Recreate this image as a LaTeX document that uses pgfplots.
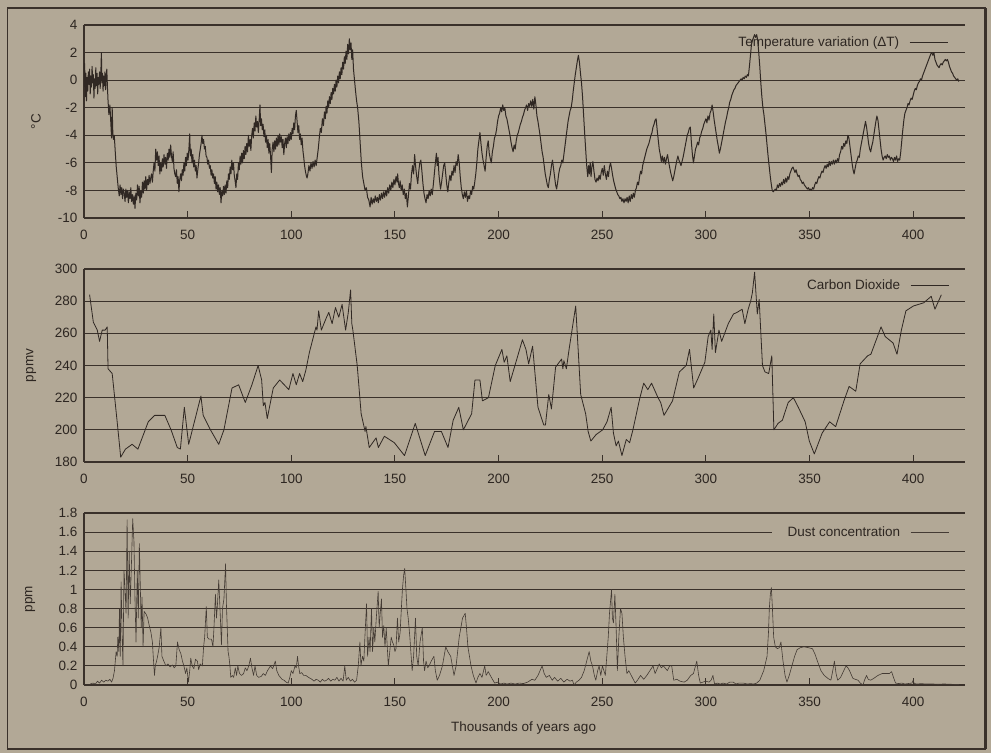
\documentclass[border=0pt]{standalone}
\usepackage{fontspec}
\setmainfont{Liberation Sans}
\usepackage{pgfplots}
\pgfplotsset{compat=1.18}
\definecolor{bg}{RGB}{178,168,150}
\definecolor{ink}{RGB}{58,49,42}
\definecolor{txt}{RGB}{45,38,33}
\definecolor{dat}{RGB}{48,40,35}
\pgfplotsset{
 panel/.style={
  scale only axis, width=881pt, xmin=0, xmax=425,
  axis x line=bottom, axis y line=left,
  axis line style={-, ink, line width=1.3pt},
  xtick={0,50,...,400}, xticklabels={0,50,100,150,200,250,300,350,400},
  tick align=inside, major tick length=7pt,
  tick style={ink, line width=1pt},
  ymajorgrids, grid style={ink, line width=1.1pt},
  every tick label/.append style={font=\fontsize{13.5}{15}\selectfont, text=txt},
  xticklabel style={yshift=-9pt}, yticklabel style={xshift=-3pt},
  label style={font=\fontsize{13.5}{15}\selectfont, text=txt},
  legend plot pos=right,
  legend image code/.code={\draw[##1] (0pt,0pt) -- (38pt,0pt);},
 }
}
\begin{document}
\begin{tikzpicture}
\path[use as bounding box, fill=bg] (0pt,0pt) rectangle (991pt,753pt);
\draw[ink, line width=1.5pt] (7.5pt,4pt) rectangle (985pt,745pt);
\draw[ink, line width=3pt] (985pt,4pt) -- (985pt,745pt);
% ---------------- Temperature
\begin{axis}[panel, at={(84pt,535pt)}, anchor=south west, height=193pt,
  ymin=-10, ymax=4, ytick={-10,-8,-6,-4,-2,0,2,4}, yticklabels={-10,-8,-6,-4,-2,0,2,4},
  ylabel={°C}, ylabel style={at={(axis description cs:-0.0545,0.5)}, anchor=center},
  legend style={draw=none, fill=none, at={(axis description cs:0.981,0.91)}, anchor=east,
    inner sep=0pt, nodes={inner sep=0pt, text=txt, font=\fontsize{13.5}{15}\selectfont}, column sep=10pt}]
\addplot[dat, line width=1pt, line join=round] coordinates {
(0,-0.5)(0.3,1.2)(0.6,-1.2)(0.9,0.5)(1.2,-1.5)(1.5,0.2)(1.8,-0.8)(2.1,0.6)(2.4,-0.3)(2.7,0.8)(3.0,-1.0)(3.3,0.3)(3.6,-0.5)(3.9,1.0)(4.2,-0.2)(4.5,0.4)(4.8,-1.3)(5.1,0.1)(5.4,-0.6)(5.7,0.9)(6.0,-0.4)(6.3,0.5)(6.6,-1.0)(6.9,0.2)(7.2,-0.3)(7.5,0.6)(7.8,-0.6)(8.1,0.4)(8.4,2.0)(8.6,-0.2)(8.9,0.5)(9.2,-0.8)(9.5,0.3)(9.8,-0.4)(10.1,0.6)(10.4,-0.7)(10.7,0.2)(11.0,0.8)(11.3,-0.5)(11.6,-1.5)(12.0,-2.5)(12.5,-1.8)(12.9,-3.0)(13.3,-4.2)(13.6,-2.0)(13.9,-3.8)(14.2,-4.3)(14.6,-4.0)(15.0,-5.0)(15.5,-6.2)(16.0,-7.0)(16.5,-7.8)(17.0,-8.4)(17.4,-7.6)(17.8,-8.3)(18.2,-7.8)(18.6,-8.6)(19.0,-7.9)(19.4,-8.2)(19.8,-8.8)(20.2,-7.9)(20.6,-8.5)(21.0,-8.0)(21.4,-8.9)(21.8,-8.1)(22.2,-8.6)(22.6,-7.8)(23.0,-8.8)(23.4,-8.3)(23.8,-9.0)(24.2,-8.4)(24.6,-9.3)(25.0,-8.2)(25.4,-8.7)(25.8,-7.6)(26.2,-8.4)(26.6,-7.7)(27.0,-8.9)(27.4,-8.0)(27.8,-8.5)(28.2,-7.4)(28.6,-8.2)(29.0,-7.3)(29.4,-7.9)(29.8,-7.0)(30.2,-8.0)(30.6,-7.2)(31.0,-7.6)(31.4,-6.9)(31.8,-7.5)(32.2,-7.1)(32.6,-6.8)(33.0,-7.4)(33.4,-6.6)(33.8,-6.0)(34.2,-6.6)(34.6,-5.0)(35.0,-5.8)(35.4,-5.2)(35.8,-6.2)(36.2,-5.5)(36.6,-6.8)(37.0,-6.0)(37.4,-6.6)(37.8,-5.7)(38.2,-6.3)(38.6,-5.4)(39.0,-6.1)(39.4,-5.6)(39.8,-6.4)(40.2,-5.3)(40.6,-5.8)(41.0,-5.0)(41.4,-5.6)(41.8,-4.7)(42.2,-5.5)(42.6,-5.9)(43.0,-5.2)(43.4,-6.4)(43.8,-6.8)(44.2,-7.0)(44.6,-6.5)(45.0,-7.5)(45.4,-7.0)(45.8,-8.1)(46.2,-7.2)(46.6,-6.8)(47.0,-7.3)(47.4,-6.5)(47.8,-6.9)(48.2,-6.0)(48.6,-6.6)(49.0,-5.6)(49.4,-6.2)(49.8,-5.3)(50.2,-5.8)(50.6,-5.0)(51.0,-3.9)(51.3,-5.5)(51.7,-5.0)(52.1,-6.0)(52.5,-5.4)(52.9,-6.3)(53.3,-5.8)(53.7,-6.6)(54.1,-6.2)(54.5,-7.1)(54.9,-6.5)(55.3,-6.0)(55.7,-5.4)(56.1,-5.0)(56.5,-4.6)(56.9,-4.0)(57.3,-4.6)(57.7,-4.3)(58.1,-5.0)(58.5,-4.8)(58.9,-5.5)(59.3,-5.6)(59.7,-6.1)(60.1,-5.8)(60.5,-6.4)(60.9,-6.2)(61.3,-6.9)(61.7,-6.5)(62.1,-7.1)(62.5,-6.8)(62.9,-7.5)(63.3,-7.0)(63.7,-7.9)(64.1,-7.4)(64.5,-8.1)(64.9,-7.6)(65.3,-8.3)(65.7,-7.8)(66.1,-8.9)(66.5,-8.0)(66.9,-8.4)(67.3,-7.7)(67.7,-8.3)(68.1,-7.6)(68.5,-8.2)(68.9,-7.3)(69.3,-7.8)(69.7,-6.8)(70.1,-7.2)(70.5,-6.3)(70.9,-6.8)(71.3,-5.8)(71.7,-6.5)(72.1,-6.0)(72.5,-6.9)(72.9,-7.3)(73.3,-7.8)(73.7,-6.8)(74.1,-7.2)(74.5,-6.0)(74.9,-6.5)(75.3,-5.5)(75.7,-6.1)(76.1,-5.3)(76.5,-6.0)(76.9,-5.1)(77.3,-5.7)(77.7,-4.8)(78.1,-5.4)(78.5,-4.6)(78.9,-5.2)(79.3,-4.0)(79.7,-4.8)(80.1,-4.3)(80.5,-5.1)(80.9,-4.0)(81.3,-3.5)(81.7,-4.2)(82.1,-3.1)(82.5,-3.7)(82.9,-2.6)(83.3,-3.4)(83.7,-3.0)(84.1,-3.8)(84.5,-2.9)(84.9,-1.8)(85.2,-3.3)(85.6,-2.8)(86.0,-3.6)(86.4,-3.2)(86.8,-4.1)(87.2,-3.6)(87.6,-4.5)(88.0,-4.0)(88.4,-4.9)(88.8,-4.3)(89.2,-5.3)(89.6,-4.6)(90.0,-5.5)(90.4,-6.7)(90.8,-5.0)(91.2,-4.5)(91.6,-5.2)(92.0,-4.4)(92.4,-5.0)(92.8,-4.2)(93.2,-4.8)(93.6,-4.0)(94.0,-4.7)(94.4,-3.9)(94.8,-4.5)(95.2,-4.1)(95.6,-4.9)(96.0,-4.3)(96.4,-5.4)(96.8,-4.6)(97.2,-4.2)(97.6,-4.9)(98.0,-4.1)(98.4,-4.6)(98.8,-3.9)(99.2,-4.4)(99.6,-3.8)(100.0,-4.3)(100.4,-3.5)(100.8,-3.9)(101.2,-3.1)(101.6,-3.6)(102.0,-2.6)(102.4,-2.2)(102.8,-3.0)(103.2,-3.8)(103.6,-3.3)(104.0,-4.3)(104.4,-3.9)(104.8,-4.7)(105.2,-4.2)(105.6,-5.1)(106.0,-5.6)(106.4,-6.2)(106.8,-6.6)(107.2,-6.9)(107.6,-7.1)(108.0,-6.8)(108.5,-6.2)(109.0,-6.6)(109.5,-6.0)(110.0,-6.4)(110.5,-5.9)(111.0,-6.3)(111.5,-5.8)(112.0,-6.2)(112.5,-5.6)(113.0,-5.0)(113.5,-4.2)(114.0,-3.5)(114.5,-3.8)(115.0,-2.8)(115.5,-3.3)(116.0,-2.3)(116.4,-2.8)(116.8,-1.9)(117.2,-2.4)(117.6,-1.5)(118.0,-2.0)(118.4,-1.2)(118.8,-1.7)(119.2,-0.9)(119.6,-1.4)(120.0,-0.6)(120.4,-1.0)(120.8,-0.3)(121.2,-0.8)(121.6,0.0)(122.0,-0.5)(122.4,0.3)(122.8,-0.2)(123.2,0.6)(123.6,0.1)(124.0,0.9)(124.4,0.4)(124.8,1.3)(125.2,0.8)(125.6,1.7)(126.0,1.2)(126.4,2.1)(126.8,1.5)(127.2,2.6)(127.6,1.9)(128.0,3.0)(128.4,2.2)(128.8,2.7)(129.2,1.5)(129.6,2.2)(130.0,0.8)(130.5,0.0)(131.0,-0.8)(131.5,-1.5)(132.0,-2.0)(132.6,-3.0)(133.2,-4.5)(133.8,-6.0)(134.4,-7.0)(135.0,-7.5)(135.6,-8.0)(136.2,-7.8)(136.8,-8.5)(137.4,-8.7)(138.0,-9.2)(138.5,-8.5)(139.0,-9.0)(139.5,-8.6)(140.0,-8.9)(140.5,-8.4)(141.0,-8.8)(141.5,-8.5)(142.0,-8.9)(142.5,-8.3)(143.0,-8.7)(143.5,-8.2)(144.0,-8.6)(144.5,-8.1)(145.0,-8.5)(145.5,-8.0)(146.0,-8.4)(146.5,-7.8)(147.0,-8.2)(147.5,-7.6)(148.0,-8.0)(148.5,-7.4)(149.0,-7.8)(149.5,-7.2)(150.0,-7.6)(150.5,-7.0)(151.0,-7.4)(151.3,-6.8)(151.7,-7.5)(152.1,-7.8)(152.5,-7.3)(153.0,-8.0)(153.5,-7.6)(154.0,-8.3)(154.5,-7.9)(155.0,-8.6)(155.5,-8.2)(156.0,-9.2)(156.5,-8.4)(157.0,-7.5)(157.5,-7.9)(158.0,-6.8)(158.5,-6.2)(159.0,-6.8)(159.5,-5.4)(160.0,-6.3)(160.5,-7.0)(161.0,-7.5)(161.5,-6.6)(162.0,-6.0)(162.5,-5.8)(163.0,-6.6)(163.5,-7.5)(164.0,-8.2)(164.5,-8.6)(165.0,-8.9)(165.5,-8.3)(166.0,-8.6)(166.5,-8.0)(167.0,-8.4)(167.5,-7.9)(168.0,-8.3)(168.5,-7.6)(169.0,-6.8)(169.5,-6.0)(170.0,-5.3)(170.4,-6.2)(170.8,-5.6)(171.2,-6.8)(171.6,-7.4)(172.0,-7.9)(172.5,-7.4)(173.0,-6.8)(173.5,-6.2)(174.0,-6.0)(174.5,-6.8)(175.0,-7.6)(175.5,-8.1)(176.0,-7.4)(176.5,-6.9)(177.0,-7.3)(177.5,-6.6)(178.0,-6.9)(178.5,-6.2)(179.0,-6.7)(179.5,-5.9)(180.0,-6.2)(180.5,-5.4)(181.0,-6.0)(181.5,-7.0)(182.0,-7.8)(182.5,-8.3)(183.0,-8.6)(183.5,-8.1)(184.0,-8.5)(184.5,-8.0)(185.0,-8.8)(185.5,-8.4)(186.0,-8.6)(186.5,-8.0)(187.0,-8.3)(187.5,-7.7)(188.0,-7.9)(188.5,-7.4)(189.0,-6.8)(189.5,-6.0)(190.0,-5.0)(190.5,-4.4)(191.0,-3.8)(191.5,-4.6)(192.0,-5.3)(192.5,-5.8)(193.0,-6.2)(193.5,-6.6)(194.0,-5.6)(194.5,-4.8)(195.0,-4.4)(195.5,-5.3)(196.0,-5.7)(196.5,-6.0)(197.0,-5.2)(197.5,-4.8)(198.0,-4.2)(198.5,-4.0)(199.0,-3.6)(199.5,-3.0)(200.0,-2.6)(200.5,-2.4)(201.0,-2.0)(201.5,-2.3)(202.0,-1.8)(202.5,-2.2)(203.0,-2.0)(203.5,-2.6)(204.0,-2.8)(204.5,-3.2)(205.0,-3.6)(205.5,-4.0)(206.0,-4.5)(206.5,-4.9)(207.0,-5.2)(207.5,-4.7)(208.0,-5.0)(208.5,-4.4)(209.0,-4.0)(209.5,-3.8)(210.0,-3.5)(210.5,-3.2)(211.0,-3.0)(211.5,-2.7)(212.0,-2.5)(212.5,-2.2)(213.0,-2.0)(213.5,-1.8)(214.0,-2.2)(214.5,-1.7)(215.0,-1.9)(215.5,-1.5)(216.0,-1.9)(216.5,-1.4)(217.0,-2.1)(217.5,-1.2)(218.0,-1.8)(218.5,-2.6)(219.0,-3.0)(219.5,-3.5)(220.0,-4.0)(220.5,-4.6)(221.0,-5.2)(221.5,-5.6)(222.0,-6.2)(222.5,-6.8)(223.0,-7.2)(223.5,-7.6)(224.0,-7.8)(224.5,-7.2)(225.0,-6.8)(225.5,-6.2)(226.0,-5.8)(226.5,-6.4)(227.0,-7.0)(227.5,-7.6)(228.0,-7.9)(228.5,-7.4)(229.0,-6.8)(229.5,-6.4)(230.0,-6.2)(230.5,-5.8)(231.0,-6.0)(231.5,-5.4)(232.0,-4.8)(232.5,-4.2)(233.0,-3.6)(233.5,-3.0)(234.0,-2.6)(234.5,-2.2)(235.0,-2.0)(235.5,-1.5)(236.0,-0.8)(236.5,-0.2)(237.0,0.4)(237.5,0.9)(238.0,1.4)(238.5,1.8)(239.0,1.3)(239.5,0.5)(240.0,-0.2)(240.5,-1.2)(241.0,-2.5)(241.5,-3.8)(242.0,-5.0)(242.5,-6.2)(243.0,-7.0)(243.4,-6.2)(243.8,-6.8)(244.2,-6.0)(244.6,-7.0)(245.0,-6.3)(245.5,-5.9)(246.0,-6.6)(246.5,-7.2)(247.0,-7.4)(247.5,-7.1)(248.0,-7.3)(248.5,-6.9)(249.0,-7.2)(249.5,-6.7)(250.0,-6.4)(250.5,-6.9)(251.0,-6.2)(251.5,-6.8)(252.0,-7.2)(252.5,-6.6)(253.0,-7.0)(253.5,-6.3)(254.0,-6.0)(254.5,-6.4)(255.0,-6.9)(255.5,-7.3)(256.0,-7.6)(256.5,-7.9)(257.0,-8.1)(257.5,-8.3)(258.0,-8.4)(258.5,-8.6)(259.0,-8.5)(259.5,-8.8)(260.0,-8.6)(260.5,-8.9)(261.0,-8.6)(261.5,-8.8)(262.0,-8.5)(262.5,-8.9)(263.0,-8.4)(263.5,-8.8)(264.0,-8.3)(264.5,-8.6)(265.0,-8.2)(265.5,-8.5)(266.0,-8.0)(266.5,-7.8)(267.0,-7.4)(267.5,-7.6)(268.0,-7.0)(268.5,-6.6)(269.0,-6.8)(269.5,-6.2)(270.0,-5.9)(270.5,-5.6)(271.0,-5.3)(271.5,-5.0)(272.0,-4.8)(272.5,-4.6)(273.0,-4.3)(273.5,-4.0)(274.0,-3.8)(274.5,-3.4)(275.0,-3.2)(275.5,-2.9)(276.0,-2.8)(276.5,-3.6)(277.0,-4.3)(277.5,-5.0)(278.0,-5.4)(278.5,-5.9)(279.0,-5.5)(279.5,-6.0)(280.0,-5.6)(280.5,-6.1)(281.0,-5.7)(281.5,-5.4)(282.0,-5.9)(282.5,-6.3)(283.0,-6.7)(283.5,-7.0)(284.0,-7.3)(284.5,-7.0)(285.0,-6.6)(285.5,-6.2)(286.0,-5.8)(286.5,-5.5)(287.0,-5.8)(287.5,-6.0)(288.0,-6.2)(288.5,-5.9)(289.0,-5.6)(289.5,-5.2)(290.0,-4.8)(290.5,-4.4)(291.0,-4.0)(291.5,-3.8)(292.0,-3.5)(292.5,-3.4)(293.0,-4.5)(293.5,-5.4)(294.0,-6.0)(294.5,-5.5)(295.0,-5.0)(295.5,-4.8)(296.0,-4.5)(296.5,-4.7)(297.0,-4.2)(297.5,-4.0)(298.0,-3.7)(298.5,-3.5)(299.0,-3.2)(299.5,-3.0)(300.0,-2.8)(300.5,-3.1)(301.0,-2.6)(301.5,-2.9)(302.0,-2.4)(302.5,-2.2)(303.0,-1.8)(303.5,-2.3)(304.0,-2.9)(304.5,-3.4)(305.0,-3.9)(305.5,-4.4)(306.0,-4.8)(306.5,-5.3)(307.0,-5.0)(307.5,-4.6)(308.0,-4.2)(308.5,-3.8)(309.0,-3.4)(309.5,-3.0)(310.0,-2.7)(310.5,-2.3)(311.0,-2.0)(311.5,-1.6)(312.0,-1.4)(312.5,-1.1)(313.0,-0.9)(313.5,-0.7)(314.0,-0.6)(314.5,-0.4)(315.0,-0.3)(315.5,-0.2)(316.0,-0.1)(316.5,0.0)(317.0,0.1)(317.5,0.0)(318.0,0.2)(318.5,0.1)(319.0,0.3)(319.5,0.2)(320.0,0.4)(320.5,0.3)(321.0,1.0)(321.5,1.8)(322.0,2.6)(322.5,2.9)(323.0,3.1)(323.5,3.3)(324.0,3.1)(324.5,3.3)(325.0,2.9)(325.5,2.0)(326.0,1.0)(326.5,-0.2)(327.0,-1.2)(327.5,-2.0)(328.0,-2.5)(328.5,-3.2)(329.0,-3.9)(329.5,-4.7)(330.0,-5.5)(330.5,-6.2)(331.0,-6.9)(331.5,-7.5)(332.0,-8.0)(332.5,-8.1)(333.0,-8.0)(333.5,-7.9)(334.0,-8.0)(334.5,-7.6)(335.0,-7.8)(335.5,-7.5)(336.0,-7.7)(336.5,-7.4)(337.0,-7.6)(337.5,-7.2)(338.0,-7.5)(338.5,-7.1)(339.0,-7.4)(339.5,-7.0)(340.0,-7.2)(340.5,-6.8)(341.0,-6.6)(341.5,-6.4)(342.0,-6.3)(342.5,-6.5)(343.0,-6.7)(343.5,-6.5)(344.0,-6.8)(344.5,-7.0)(345.0,-6.9)(345.5,-7.2)(346.0,-7.3)(346.5,-7.5)(347.0,-7.4)(347.5,-7.6)(348.0,-7.7)(348.5,-7.8)(349.0,-7.9)(349.5,-7.8)(350.0,-8.0)(350.5,-7.9)(351.0,-8.0)(351.5,-7.8)(352.0,-7.9)(352.5,-7.6)(353.0,-7.4)(353.5,-7.5)(354.0,-7.2)(354.5,-7.0)(355.0,-7.1)(355.5,-6.8)(356.0,-6.6)(356.5,-6.7)(357.0,-6.4)(357.5,-6.2)(358.0,-6.4)(358.5,-6.1)(359.0,-6.3)(359.5,-5.9)(360.0,-6.2)(360.5,-5.9)(361.0,-6.1)(361.5,-5.8)(362.0,-6.1)(362.5,-5.8)(363.0,-6.0)(363.5,-5.7)(364.0,-5.9)(364.5,-5.4)(365.0,-5.2)(365.5,-4.8)(366.0,-5.0)(366.5,-4.6)(367.0,-4.8)(367.5,-4.4)(368.0,-4.6)(368.5,-4.0)(369.0,-4.2)(369.5,-4.8)(370.0,-5.4)(370.5,-6.0)(371.0,-6.5)(371.5,-6.8)(372.0,-6.4)(372.5,-6.0)(373.0,-5.8)(373.5,-5.5)(374.0,-5.6)(374.5,-5.0)(375.0,-4.6)(375.5,-4.2)(376.0,-3.8)(376.5,-3.4)(377.0,-3.0)(377.5,-3.4)(378.0,-4.0)(378.5,-4.6)(379.0,-5.0)(379.5,-5.2)(380.0,-4.8)(380.5,-4.5)(381.0,-4.0)(381.5,-3.5)(382.0,-3.0)(382.5,-2.6)(383.0,-2.9)(383.5,-3.6)(384.0,-4.3)(384.5,-5.0)(385.0,-5.5)(385.5,-5.8)(386.0,-5.6)(386.5,-5.5)(387.0,-5.7)(387.5,-5.4)(388.0,-5.6)(388.5,-5.5)(389.0,-5.8)(389.5,-5.6)(390.0,-5.7)(390.5,-5.9)(391.0,-5.6)(391.5,-5.8)(392.0,-5.5)(392.5,-5.9)(393.0,-5.7)(393.5,-5.8)(394.0,-5.2)(394.5,-4.4)(395.0,-3.6)(395.5,-2.9)(396.0,-2.4)(396.5,-2.2)(397.0,-2.0)(397.5,-1.7)(398.0,-1.8)(398.5,-1.5)(399.0,-1.3)(399.5,-1.4)(400.0,-1.1)(400.5,-0.8)(401.0,-0.6)(401.5,-0.7)(402.0,-0.4)(402.5,-0.2)(403.0,-0.1)(403.5,0.1)(404.0,0.0)(404.5,0.3)(405.0,0.5)(405.5,0.7)(406.0,0.9)(406.5,1.1)(407.0,1.3)(407.5,1.5)(408.0,1.7)(408.5,1.9)(409.0,2.0)(409.5,1.8)(410.0,2.0)(410.5,1.5)(411.0,1.3)(411.5,1.1)(412.0,1.0)(412.5,0.9)(413.0,1.1)(413.5,1.2)(414.0,1.1)(414.5,1.3)(415.0,1.4)(415.5,1.5)(416.0,1.4)(416.5,1.5)(417.0,1.3)(417.5,1.0)(418.0,0.8)(418.5,0.6)(419.0,0.5)(419.5,0.3)(420.0,0.2)(420.5,0.1)(421.0,0.0)(421.5,0.1)(422.0,-0.1)
};
\addlegendentry{Temperature variation (ΔT)}
\end{axis}
% ---------------- CO2
\begin{axis}[panel, at={(84pt,291pt)}, anchor=south west, height=193pt,
  ymin=180, ymax=300, ytick={180,200,...,300}, yticklabels={180,200,220,240,260,280,300},
  ylabel={ppmv}, ylabel style={at={(axis description cs:-0.06,0.5)}, anchor=center},
  legend style={draw=none, fill=none, at={(axis description cs:0.982,0.913)}, anchor=east,
    inner sep=0pt, nodes={inner sep=0pt, text=txt, font=\fontsize{13.5}{15}\selectfont}, column sep=10pt}]
\addplot[dat, line width=0.8pt, line join=round] coordinates {
(2.7,284)(4.5,267)(6.4,262)(7.5,255)(8.8,262)(10.2,262)(11.2,264)(11.6,238)(13.6,235)(16,205)(17.7,183)(20,188)(23.2,191)(26,188)(31,205)(34.1,209)(39,209)(42,200)(45,189)(46.5,188)(48.4,214)(50.5,191)(56.4,221)(57.5,209)(61,200)(65,191)(67.5,200)(71.4,226)(74.6,228)(77.8,217)(81,228)(84,240)(85.7,231)(86.5,215)(87.3,217)(88.4,207)(91.3,226)(94.4,231)(98.8,225)(100.8,235)(102.4,228)(104,235)(105.5,230)(107,237)(108.7,248)(111.1,260)(111.9,264)(112.4,262)(113.2,274)(114.5,262)(117,270)(118.1,273)(119.7,266)(121.3,276)(122.9,270)(124.5,278)(126.2,262)(127.5,273)(128.6,287)(129.2,266)(129.7,262)(131.8,240)(133.7,210)(135.6,199)(136,202)(137.6,189)(140.9,195)(142,189)(144.9,196)(149.7,192)(154.6,184)(159.8,204)(164.6,184)(169.1,199)(172.4,199)(175.6,189)(178.1,206)(180.8,214)(183,200)(187,210)(188.6,231)(191,231)(192.2,218)(195.1,220)(198.4,240)(201.6,250)(202.7,242)(204,246)(205.6,230)(208.8,244)(211.5,256)(213.2,250)(214.5,241)(216.4,252)(219,214)(221.8,203)(222.6,203)(224.2,222)(225.5,213)(227.5,239)(230.4,244)(231,238)(231.5,243)(232.7,238)(234,250)(237.2,277)(239.6,222)(242,210)(243.2,199)(244.5,193)(247,197)(250.2,200)(252.3,205)(254.3,214)(255.4,198)(256.7,190)(257.8,193)(259.5,184)(261.6,194)(263.2,192)(264.8,200)(268,219)(270,229)(272,225)(273.8,229)(276.9,220)(278.2,217)(279.8,209)(283.9,218)(287.2,236)(290.5,240)(292.1,250)(294.1,226)(296.2,232)(299.5,242)(301.1,258)(302.4,262)(303,250)(303.8,272)(304.6,248)(306.3,262)(307.6,255)(310.8,266)(313.3,272)(315,273)(317.5,275)(318.8,266)(320.4,275)(321.6,280)(322.4,285)(323.5,298)(324.8,272)(325.7,281)(327.3,240)(328.5,236)(330.3,235)(331.8,246)(332.8,200)(334.8,204)(336.9,206)(339.7,217)(342.2,220)(344.6,214)(347.9,205)(349.9,193)(352.3,185)(356.1,198)(359.7,205)(362.6,202)(366.6,218)(369.1,227)(372.3,224)(374.4,241)(378,246)(379.6,247)(384.5,264)(386.5,258)(390.3,254)(392.2,247)(394.3,262)(396.5,274)(400.1,277)(405.1,279)(408.7,283)(410.5,275)(413.6,284)
};
\addlegendentry{Carbon Dioxide}
\end{axis}
% ---------------- Dust
\begin{axis}[panel, at={(84pt,68pt)}, anchor=south west, height=172pt,
  ymin=0, ymax=1.8, ytick={0,0.2,0.4,0.6,0.8,1,1.2,1.4,1.6,1.8},
  yticklabels={0,0.2,0.4,0.6,0.8,1,1.2,1.4,1.6,1.8},
  ylabel={ppm}, ylabel style={at={(axis description cs:-0.061,0.5)}, anchor=center},
  xlabel={Thousands of years ago}, xlabel style={at={(axis description cs:0.499,-0.25)}, anchor=center},
  legend style={draw=none, fill=bg, at={(axis description cs:1.0,0.889)}, anchor=east,
    inner xsep=16pt, inner ysep=3pt, nodes={inner sep=0pt, text=txt, font=\fontsize{13.5}{15}\selectfont}, column sep=10pt}]
\addplot[dat!85!bg, line width=0.6pt, line join=round] coordinates {
(3,0.01)(4.3,0.02)(5.5,0.01)(6.5,0.04)(7.5,0.02)(8.5,0.05)(9.5,0.03)(10.5,0.05)(11.5,0.04)(12.5,0.06)(13.3,0.03)(14,0.07)(14.7,0.15)(15.5,0.35)(16,0.3)(16.3,0.5)(16.8,0.35)(17.1,0.8)(17.5,0.3)(17.9,1.08)(18.4,0.5)(18.8,0.2)(19.3,1.2)(19.8,1.0)(20.3,0.75)(20.8,1.73)(21.3,0.7)(21.8,1.4)(22.3,0.85)(22.8,1.2)(23.5,1.74)(24.1,1.5)(24.6,0.9)(25.1,0.45)(25.7,1.2)(26.2,0.7)(26.7,1.48)(27.2,1.0)(27.6,0.6)(28.0,0.92)(28.5,0.4)(29.0,0.77)(30.0,0.74)(30.7,0.7)(31.5,0.62)(32.3,0.55)(33.0,0.45)(33.4,0.3)(34.0,0.1)(34.4,0.2)(35.0,0.25)(35.5,0.3)(36.3,0.4)(37.1,0.6)(37.6,0.3)(38.5,0.25)(39.5,0.2)(40.5,0.22)(41.5,0.19)(42.7,0.21)(43.5,0.18)(44.3,0.2)(45.1,0.45)(45.9,0.37)(46.7,0.33)(47.5,0.25)(48.2,0.2)(49,0.12)(49.6,0.18)(50.4,0.03)(51,0.15)(51.5,0.28)(52.2,0.2)(53,0.17)(53.8,0.27)(54.7,0.25)(55.3,0.16)(56,0.22)(57.1,0.2)(57.7,0.4)(58.2,0.5)(59,0.82)(59.5,0.5)(60.3,0.48)(61.5,0.48)(62.2,0.4)(62.7,0.6)(63.4,0.95)(63.9,0.7)(64.4,0.85)(65,1.1)(65.4,0.9)(65.8,0.7)(66.3,0.42)(66.8,0.8)(67.5,0.9)(68.3,1.27)(68.7,0.85)(69.1,0.6)(69.5,0.35)(69.9,0.3)(70.4,0.2)(70.8,0.08)(71.5,0.1)(72.2,0.08)(73,0.18)(73.6,0.1)(74.2,0.2)(75,0.12)(76,0.1)(77,0.12)(77.8,0.18)(78.6,0.15)(79.5,0.2)(80.3,0.28)(81,0.18)(81.8,0.1)(82.5,0.2)(83.3,0.1)(84.2,0.08)(85.5,0.09)(86.5,0.12)(87.5,0.1)(88.5,0.15)(90,0.2)(91,0.17)(92.3,0.25)(93,0.15)(94,0.1)(95.5,0.06)(96.5,0.05)(97.5,0.03)(98.5,0.02)(99.3,0.08)(100,0.15)(100.8,0.12)(101.8,0.2)(102.4,0.18)(103,0.3)(103.5,0.2)(104.1,0.12)(105,0.13)(106,0.1)(107,0.1)(108.3,0.08)(109.9,0.06)(111,0.04)(112,0.06)(113,0.05)(114,0.03)(115,0.06)(116,0.04)(117,0.05)(118,0.07)(119,0.04)(120,0.06)(121,0.05)(122,0.08)(123,0.04)(124,0.07)(125,0.04)(125.8,0.2)(126.5,0.05)(127.5,0.08)(128.5,0.04)(129.5,0.06)(130.5,0.03)(131.5,0.05)(132.3,0.2)(133.1,0.45)(133.6,0.2)(134.3,0.3)(135,0.25)(135.5,0.5)(136.3,0.85)(136.8,0.3)(137.5,0.5)(138,0.35)(138.7,0.8)(139.2,0.35)(139.8,0.6)(140.3,0.45)(141,0.7)(141.9,0.98)(142.4,0.6)(142.9,0.75)(143.5,0.9)(144,0.5)(144.6,0.62)(145.2,0.4)(145.8,0.6)(146.8,0.2)(147.5,0.35)(148.2,0.5)(148.8,0.45)(149.4,0.42)(150,0.35)(150.5,0.38)(151.2,0.7)(151.8,0.45)(152.5,0.55)(153.1,0.8)(153.6,1.0)(154.2,1.15)(154.7,1.22)(155.3,1.0)(155.8,0.8)(156.4,0.7)(157.2,0.5)(158.3,0.15)(159.0,0.3)(159.9,0.7)(160.5,0.3)(161.2,0.2)(162.1,0.45)(163.2,0.6)(163.8,0.25)(164.3,0.15)(165,0.25)(165.8,0.18)(166.5,0.2)(167.5,0.25)(168.8,0.3)(169.5,0.15)(170.4,0.05)(171.5,0.1)(172.9,0.2)(174.5,0.4)(175.5,0.35)(176.9,0.3)(177.7,0.2)(178.5,0.1)(179.5,0.2)(181,0.5)(182.6,0.7)(183.9,0.75)(184.5,0.6)(185.2,0.4)(186.7,0.2)(187.8,0.1)(189.1,0.02)(190,0.08)(191,0.12)(192,0.08)(193.3,0.2)(194,0.1)(195,0.14)(196.5,0.08)(198.1,0.02)(199.5,0.03)(201,0.01)(202.5,0.02)(204,0.01)(206,0.02)(208,0.01)(210,0.02)(212,0.015)(214,0.03)(216.1,0.06)(217.5,0.05)(219,0.1)(220,0.15)(221,0.2)(222,0.12)(223,0.08)(224.5,0.1)(225.9,0.05)(227,0.08)(228.5,0.04)(230,0.07)(231.5,0.03)(233,0.06)(234.5,0.04)(235.6,0.05)(236.4,0.0)(237.5,0.03)(238.8,0.05)(240,0.08)(241.3,0.15)(242.5,0.25)(243.7,0.35)(244.5,0.25)(245.3,0.2)(246.2,0.1)(246.9,0.05)(247.8,0.15)(248.5,0.2)(249.3,0.1)(250.1,0.2)(250.8,0.15)(251.5,0.1)(252.2,0.3)(252.9,0.5)(253.5,0.75)(254.5,1.0)(254.9,0.7)(255.4,0.65)(256.1,0.95)(256.7,0.6)(257.3,0.15)(258,0.5)(258.8,0.8)(259.5,0.75)(260.2,0.5)(261,0.3)(261.9,0.12)(262.8,0.15)(264,0.1)(265.9,0.02)(267,0.05)(268.5,0.1)(270,0.06)(271.5,0.1)(273,0.15)(274.5,0.2)(275.5,0.12)(276.5,0.17)(277.5,0.22)(278.5,0.18)(279.5,0.2)(281.4,0.15)(282.5,0.2)(283.5,0.2)(284.5,0.05)(286,0.06)(287.5,0.04)(289.5,0.03)(291,0.05)(292.7,0.1)(294,0.12)(295.6,0.25)(296.5,0.1)(297.3,0.02)(298.5,0.03)(300,0.04)(301.5,0.03)(302.5,0.05)(303.4,0.1)(304.2,0.01)(305.5,0.02)(307,0.01)(308.3,0.02)(310,0.01)(311.5,0.03)(313.2,0.03)(314.5,0.01)(316,0.02)(318.1,0.02)(320,0.01)(321.5,0.015)(323,0.01)(324.5,0.02)(326,0.05)(327.9,0.15)(329.5,0.3)(330.2,0.55)(330.6,0.8)(331.1,0.95)(331.6,1.02)(332.1,0.8)(332.7,0.5)(333.5,0.4)(334.5,0.38)(335.4,0.39)(336.2,0.45)(337.2,0.25)(338.2,0.1)(339.1,0.03)(340.2,0.1)(341.5,0.2)(342.8,0.3)(344,0.37)(345.5,0.39)(347.3,0.4)(349.5,0.39)(351.4,0.38)(352.7,0.32)(353.8,0.25)(355.5,0.15)(357.1,0.1)(358.8,0.07)(360.3,0.05)(361.2,0.15)(362,0.25)(362.8,0.12)(363.6,0.05)(365,0.08)(366.5,0.15)(367.6,0.2)(368.5,0.18)(369.3,0.15)(370.9,0.07)(372,0.06)(373.4,0.05)(374.5,0.02)(375.8,0.0)(376.5,0.05)(377.5,0.1)(378.3,0.06)(379.5,0.05)(381,0.07)(383,0.1)(385,0.12)(387,0.12)(388.5,0.12)(389.6,0.14)(390.5,0.08)(391.5,0.02)(393,0.015)(394.5,0.02)(396,0.01)(397.5,0.015)(399.4,0.02)(400,0.05)(400.5,0.015)(402,0.01)(404,0.015)(405.9,0.01)(408,0.012)(410,0.01)(412,0.008)(414,0.01)(415.7,0.01)(418,0.008)(420.6,0.005)(422,0.005)
};
\addlegendentry{Dust concentration}
\end{axis}
\end{tikzpicture}
\end{document}
